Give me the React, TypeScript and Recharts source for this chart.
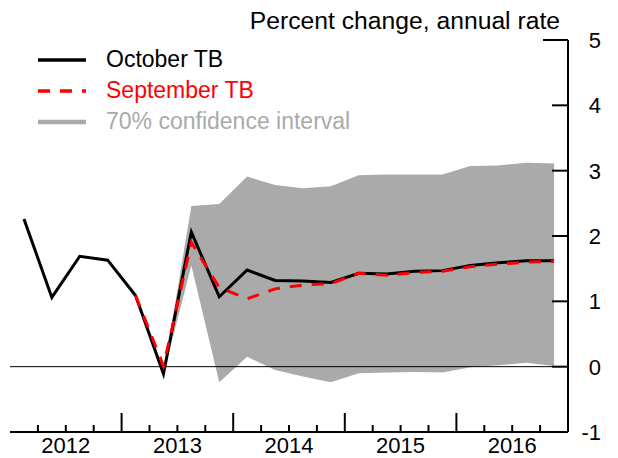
import { Area, ComposedChart, Line, ReferenceLine, XAxis, YAxis } from "recharts";

const quarters = [
  "2012Q1", "2012Q2", "2012Q3", "2012Q4",
  "2013Q1", "2013Q2", "2013Q3", "2013Q4",
  "2014Q1", "2014Q2", "2014Q3", "2014Q4",
  "2015Q1", "2015Q2", "2015Q3", "2015Q4",
  "2016Q1", "2016Q2", "2016Q3", "2016Q4",
];
const years = ["2012", "2013", "2014", "2015", "2016"];

const octoberTB = [
  2.26, 1.06, 1.69, 1.63, 1.09, -0.11, 2.06, 1.07, 1.48, 1.32,
  1.31, 1.29, 1.43, 1.42, 1.46, 1.47, 1.55, 1.59, 1.62, 1.62,
];
const septemberTB = [
  null, null, null, null, 1.09, 0.01, 1.9, 1.21, 1.04, 1.19,
  1.25, 1.27, 1.43, 1.4, 1.44, 1.46, 1.53, 1.57, 1.6, 1.61,
];
const bandLow = [
  null, null, null, null, null, -0.11, 1.55, -0.24, 0.15, -0.05,
  -0.15, -0.24, -0.1, -0.09, -0.08, -0.09, -0.01, 0.02, 0.06, 0.01,
];
const bandHigh = [
  null, null, null, null, null, -0.11, 2.46, 2.49, 2.91, 2.78,
  2.73, 2.76, 2.93, 2.94, 2.94, 2.94, 3.07, 3.08, 3.12, 3.11,
];
const yTicks = [-1, 0, 1, 2, 3, 4, 5];

const data = quarters.map((q, i) => ({
  q,
  x: i + 0.5,
  oct: octoberTB[i],
  sep: septemberTB[i],
  band: bandLow[i] == null ? null : [bandLow[i], bandHigh[i]],
}));

const FONT = "'Liberation Sans', Arial, sans-serif";
const GREY = "#aaaaaa";
const PLOT_LEFT = 10;
const PLOT_RIGHT = 568;
const PLOT_BOTTOM = 432;

function XTick(props: any) {
  const { x, payload } = props;
  const v = payload.value as number;
  const major = v % 4 === 0;
  return (
    <g>
      {v > 0 && v < 20 && (
        <line x1={x} x2={x} y1={PLOT_BOTTOM} y2={PLOT_BOTTOM - (major ? 19 : 7)} stroke="#000" strokeWidth={2} />
      )}
      {v % 4 === 2 && (
        <text x={x} y={PLOT_BOTTOM + 21} textAnchor="middle" fontSize={22} fontFamily={FONT} fill="#000">
          {years[(v - 2) / 4]}
        </text>
      )}
    </g>
  );
}

function RightTick(props: any) {
  const { y, payload } = props;
  const v = payload.value as number;
  const len = v === 5 ? 25 : 16;
  return (
    <g>
      {v > -1 && <line x1={PLOT_RIGHT} x2={PLOT_RIGHT - len} y1={y} y2={y} stroke="#000" strokeWidth={2} />}
      <text x={601} y={y + 8} textAnchor="end" fontSize={22} fontFamily={FONT} fill="#000">
        {v}
      </text>
    </g>
  );
}

function LeftTick(props: any) {
  const { y, payload } = props;
  const v = payload.value as number;
  const len = v === 5 ? 24 : 16;
  if (v === -1) return <g />;
  return <line x1={PLOT_LEFT} x2={PLOT_LEFT + len} y1={y} y2={y} stroke="#000" strokeWidth={2} />;
}

function LegendBox() {
  const row = (color: string, label: string, dash?: string, width = 3.5) => (
    <div style={{ display: "flex", alignItems: "center", height: 31 }}>
      <svg width={68} height={10}>
        <line x1={0} x2={48} y1={5} y2={5} stroke={color} strokeWidth={width} strokeDasharray={dash} />
      </svg>
      <span style={{ color, fontSize: 23, fontFamily: FONT, lineHeight: "31px" }}>{label}</span>
    </div>
  );
  return (
    <div style={{ position: "absolute", left: 38, top: 44 }}>
      {row("#000", "October TB")}
      {row("#ff0000", "September TB", "12 10")}
      {row(GREY, "70% confidence interval", undefined, 4.5)}
    </div>
  );
}

export default function App() {
  return (
    <div style={{ position: "absolute", left: 0, top: 0, width: 618, height: 458, background: "#fff" }}>
      <ComposedChart
        width={618}
        height={458}
        data={data}
        margin={{ top: 40, left: PLOT_LEFT, right: 0, bottom: 0 }}
      >
        <XAxis
          dataKey="x"
          type="number"
          domain={[0, 20]}
          ticks={Array.from({ length: 21 }, (_, i) => i)}
          interval={0}
          height={26}
          axisLine={{ stroke: "#000", strokeWidth: 2 }}
          tickLine={false}
          tick={<XTick />}
        />
        <YAxis
          yAxisId="left"
          orientation="left"
          width={0}
          domain={[-1, 5]}
          ticks={yTicks}
          axisLine={{ stroke: "#000", strokeWidth: 2 }}
          tickLine={false}
          tick={<LeftTick />}
        />
        <YAxis
          yAxisId="right"
          orientation="right"
          width={50}
          domain={[-1, 5]}
          ticks={yTicks}
          axisLine={{ stroke: "#000", strokeWidth: 2 }}
          tickLine={false}
          tick={<RightTick />}
        />
        <Area
          yAxisId="right"
          dataKey="band"
          stroke="none"
          fill={GREY}
          fillOpacity={1}
          isAnimationActive={false}
        />
        <ReferenceLine yAxisId="right" y={0} stroke="#000" strokeWidth={1} />
        <Line
          yAxisId="right"
          dataKey="oct"
          stroke="#000"
          strokeWidth={3}
          dot={false}
          isAnimationActive={false}
        />
        <Line
          yAxisId="right"
          dataKey="sep"
          stroke="#ff0000"
          strokeWidth={3}
          strokeDasharray="12 10"
          dot={false}
          isAnimationActive={false}
        />
      </ComposedChart>
      <div
        style={{
          position: "absolute",
          right: 618 - 560,
          top: 7,
          fontSize: 24.7,
          fontFamily: FONT,
          color: "#000",
          whiteSpace: "nowrap",
        }}
      >
        Percent change, annual rate
      </div>
      <LegendBox />
    </div>
  );
}
